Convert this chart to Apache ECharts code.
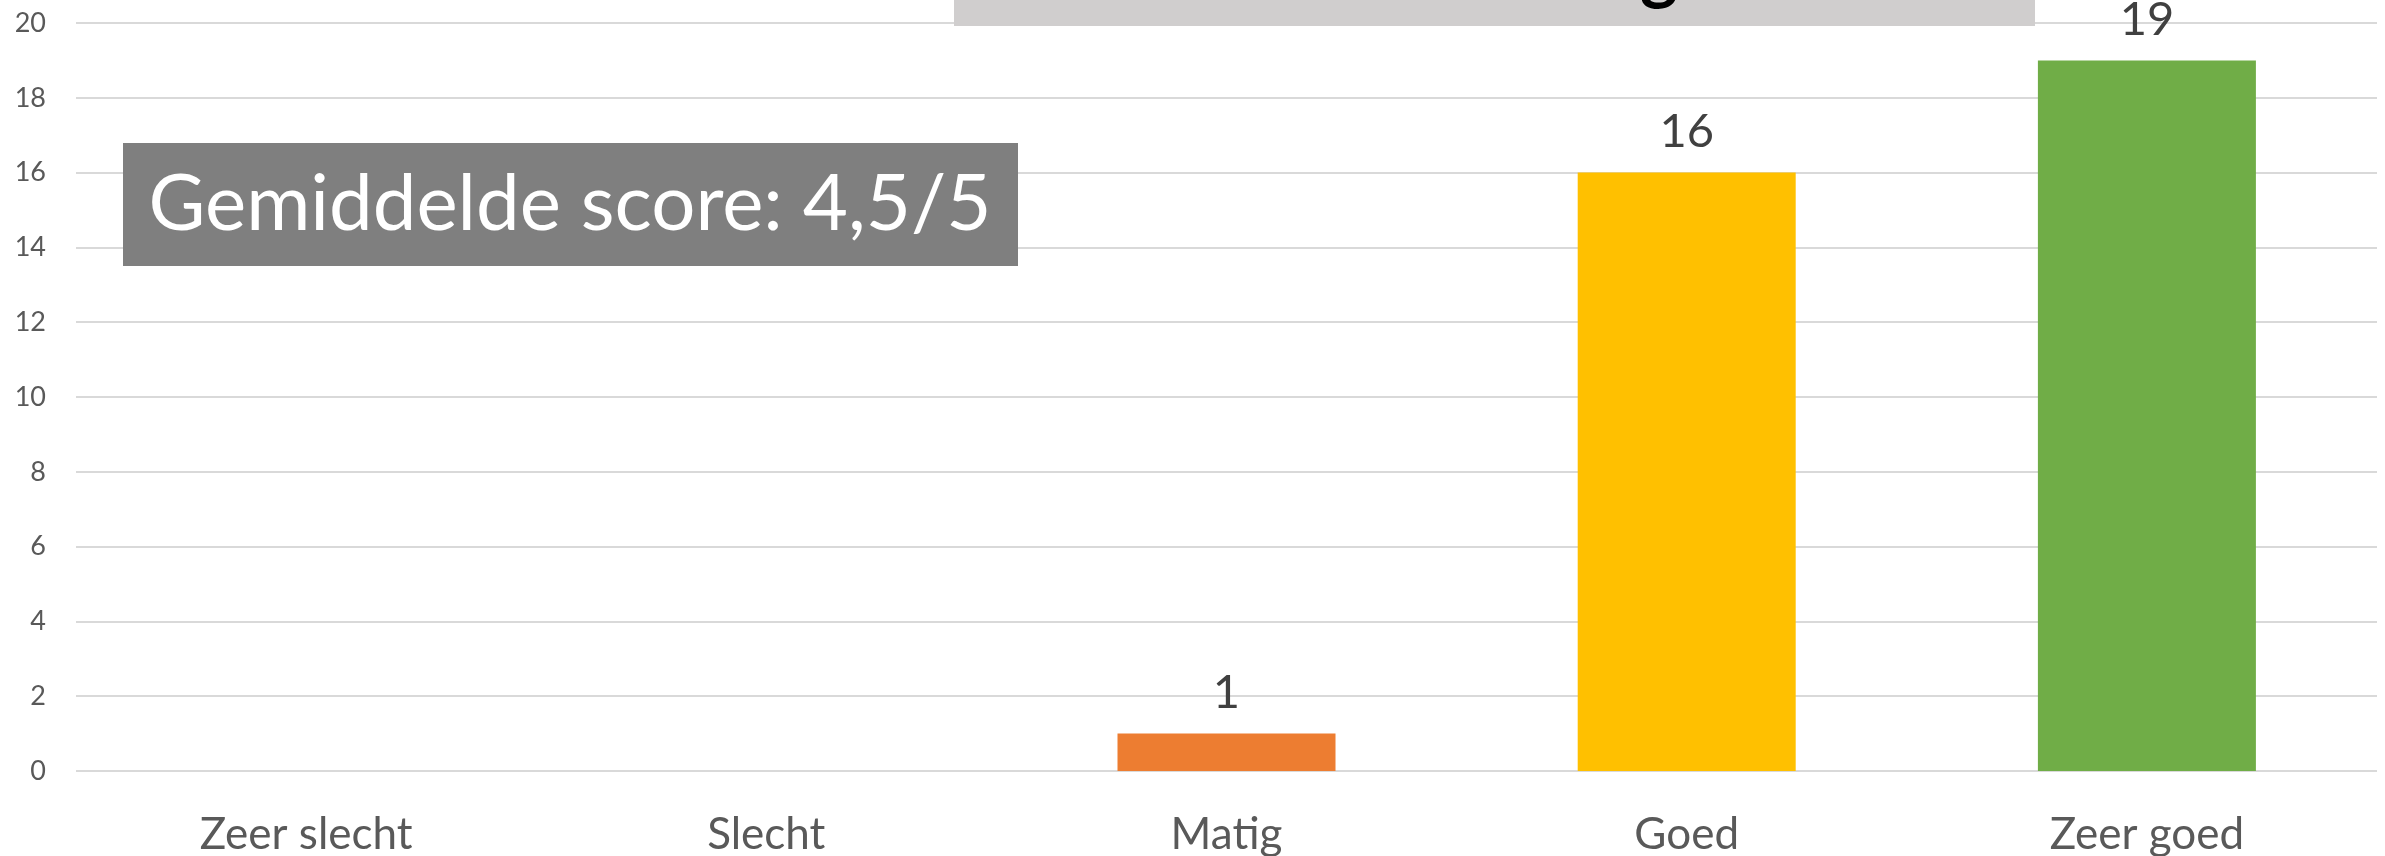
<!DOCTYPE html>
<html>
<head>
<meta charset="utf-8">
<script src="https://cdn.jsdelivr.net/npm/echarts@6/dist/echarts.min.js"></script>
<style>
html,body{margin:0;padding:0;background:#fff;}
#chart{width:2385px;height:856px;}
</style>
</head>
<body>
<div id="chart"></div>
<script>
const categories = ['Zeer slecht', 'Slecht', 'Matig', 'Goed', 'Zeer goed'];
const counts = [0, 0, 1, 16, 19];
const barColors = ['#4472C4', '#C00000', '#ED7D31', '#FFC000', '#70AD47'];
const yTicks = { min: 0, max: 20, interval: 2 };
const averageText = 'Gemiddelde score: 4,5/5';
const titleText = 'Beoordeling';

const FONT = 'Lato, "Open Sans", sans-serif';
const chart = echarts.init(document.getElementById('chart'), null, { renderer: 'canvas' });

chart.setOption({
  animation: false,
  backgroundColor: '#ffffff',
  grid: { left: 76, right: 8, top: 23, bottom: 85, outerBoundsMode: 'none', containLabel: false },
  xAxis: {
    type: 'category',
    data: categories,
    axisLine: { show: false },
    axisTick: { show: false },
    axisLabel: { color: '#595959', fontSize: 44, fontFamily: FONT, margin: 42 }
  },
  yAxis: {
    type: 'value',
    min: yTicks.min,
    max: yTicks.max,
    interval: yTicks.interval,
    axisLine: { show: false },
    axisTick: { show: false },
    axisLabel: { color: '#595959', fontSize: 27, fontFamily: FONT, margin: 30 },
    splitLine: { lineStyle: { color: '#D9D9D9', width: 2 } }
  },
  series: [{
    type: 'bar',
    data: counts.map((v, i) => ({ value: v, itemStyle: { color: barColors[i] } })),
    barWidth: 218,
    label: {
      show: true,
      position: 'top',
      distance: 17,
      color: '#404040',
      fontSize: 47,
      fontFamily: FONT,
      formatter: p => p.value > 0 ? String(p.value) : ''
    }
  }],
  graphic: [
    {
      type: 'rect', left: 954, top: 0, z: 10,
      shape: { width: 1081, height: 26 },
      style: { fill: '#D0CECE' }
    },
    {
      type: 'text', x: 1678, y: -28, z: 11,
      style: { text: titleText, fill: '#000000', font: 'bold 72px ' + FONT, align: 'right', verticalAlign: 'middle' }
    },
    {
      type: 'rect', left: 123, top: 143, z: 10,
      shape: { width: 895, height: 123 },
      style: { fill: '#7F7F7F' }
    },
    {
      type: 'text', x: 570, y: 205, z: 11,
      style: { text: averageText, fill: '#ffffff', font: '78px ' + FONT, align: 'center', verticalAlign: 'middle' }
    }
  ]
});
</script>
</body>
</html>
